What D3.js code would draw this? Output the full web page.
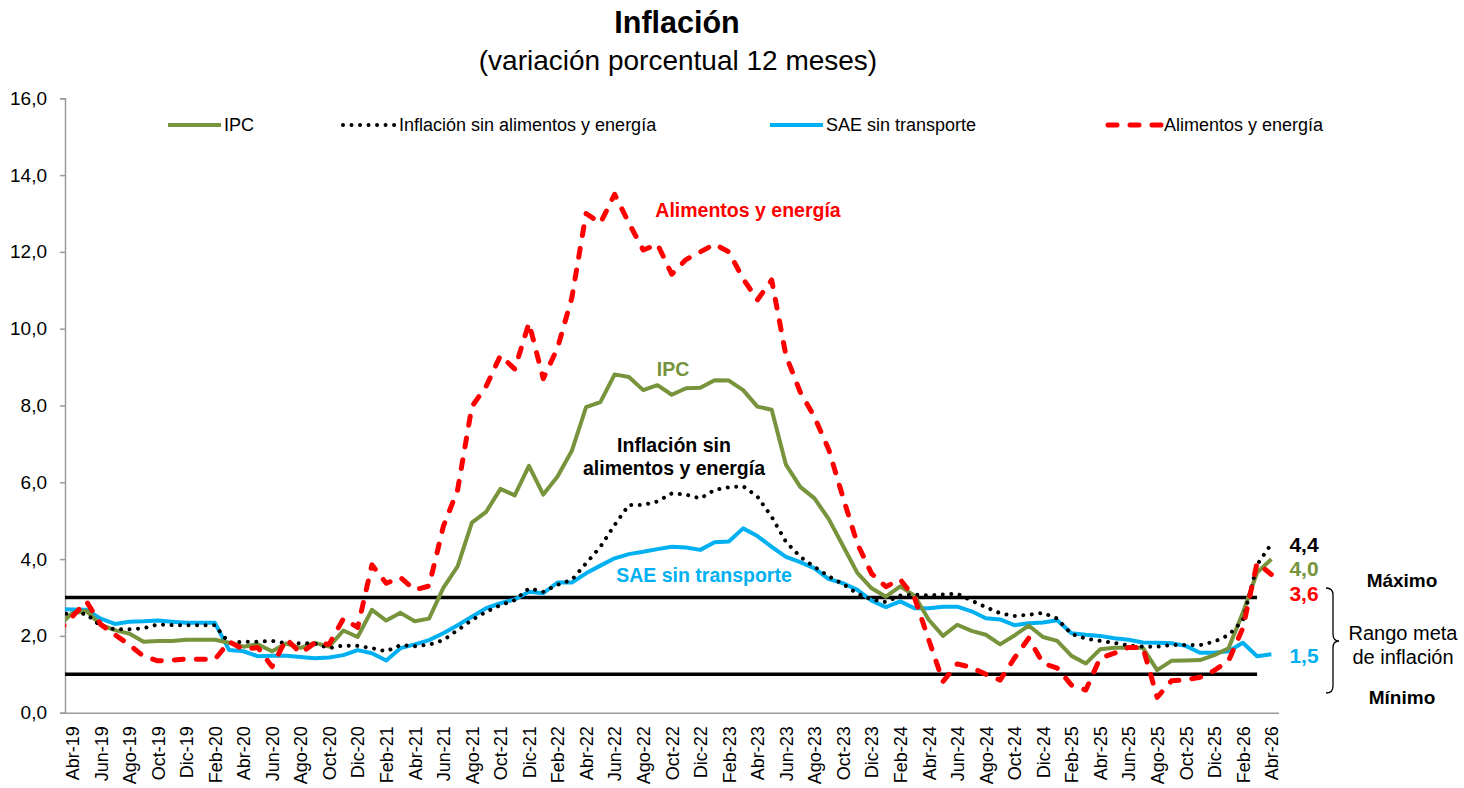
<!DOCTYPE html>
<html>
<head>
<meta charset="utf-8">
<script src="https://cdn.jsdelivr.net/npm/d3@7"></script>
<style>
  body { margin: 0; background: #fff; }
  svg { display: block; }
  text { font-family: "Liberation Sans", Arial, sans-serif; }
</style>
</head>
<body>
<svg width="1464" height="788"></svg>
<script>
// meses: Mar-19 (fuera del eje, recortado) a Abr-26
const meses = [
  "Mar-19","Abr-19","May-19","Jun-19","Jul-19","Ago-19","Sep-19","Oct-19","Nov-19","Dic-19",
  "Ene-20","Feb-20","Mar-20","Abr-20","May-20","Jun-20","Jul-20","Ago-20","Sep-20","Oct-20","Nov-20","Dic-20",
  "Ene-21","Feb-21","Mar-21","Abr-21","May-21","Jun-21","Jul-21","Ago-21","Sep-21","Oct-21","Nov-21","Dic-21",
  "Ene-22","Feb-22","Mar-22","Abr-22","May-22","Jun-22","Jul-22","Ago-22","Sep-22","Oct-22","Nov-22","Dic-22",
  "Ene-23","Feb-23","Mar-23","Abr-23","May-23","Jun-23","Jul-23","Ago-23","Sep-23","Oct-23","Nov-23","Dic-23",
  "Ene-24","Feb-24","Mar-24","Abr-24","May-24","Jun-24","Jul-24","Ago-24","Sep-24","Oct-24","Nov-24","Dic-24",
  "Ene-25","Feb-25","Mar-25","Abr-25","May-25","Jun-25","Jul-25","Ago-25","Sep-25","Oct-25","Nov-25","Dic-25",
  "Ene-26","Feb-26","Mar-26","Abr-26"
];

const ipc = [
  2.25, 2.59, 2.65, 2.29, 2.15, 2.06, 1.85, 1.87, 1.87, 1.90,
  1.90, 1.90, 1.82, 1.72, 1.78, 1.60, 1.80, 1.69, 1.82, 1.72, 2.14, 1.97,
  2.68, 2.40, 2.60, 2.38, 2.45, 3.25, 3.81, 4.95, 5.23, 5.83, 5.66, 6.43,
  5.68, 6.15, 6.82, 7.96, 8.09, 8.81, 8.74, 8.40, 8.53, 8.28, 8.45, 8.46,
  8.66, 8.65, 8.40, 7.97, 7.89, 6.46, 5.88, 5.58, 5.04, 4.34, 3.64, 3.24,
  3.02, 3.29, 3.05, 2.42, 2.00, 2.29, 2.13, 2.03, 1.78, 2.01, 2.27, 1.97,
  1.87, 1.48, 1.28, 1.65, 1.69, 1.69, 1.69, 1.11, 1.35, 1.36, 1.37, 1.50,
  1.68, 2.60, 3.65, 4.00
];

const sinAlimEnergia = [
  2.55, 2.60, 2.57, 2.26, 2.17, 2.17, 2.20, 2.30, 2.28, 2.28,
  2.28, 2.28, 1.81, 1.85, 1.85, 1.87, 1.81, 1.81, 1.80, 1.68, 1.75, 1.74,
  1.68, 1.60, 1.76, 1.73, 1.77, 1.89, 2.15, 2.41, 2.63, 2.80, 2.93, 3.24,
  3.15, 3.33, 3.46, 3.89, 4.32, 4.89, 5.41, 5.41, 5.50, 5.71, 5.68, 5.58,
  5.80, 5.87, 5.90, 5.63, 5.10, 4.45, 4.06, 3.80, 3.55, 3.35, 3.10, 2.95,
  2.88, 3.05, 3.08, 3.05, 3.08, 3.10, 2.92, 2.75, 2.59, 2.52, 2.55, 2.60,
  2.45, 2.05, 1.93, 1.87, 1.82, 1.75, 1.72, 1.72, 1.76, 1.76, 1.76, 1.85,
  2.02, 2.40, 3.85, 4.40
];

const saeSinTransporte = [
  2.70, 2.69, 2.68, 2.45, 2.31, 2.37, 2.38, 2.40, 2.37, 2.34,
  2.34, 2.34, 1.63, 1.60, 1.47, 1.48, 1.48, 1.45, 1.42, 1.44, 1.50, 1.63,
  1.55, 1.36, 1.68, 1.78, 1.89, 2.07, 2.28, 2.50, 2.72, 2.85, 2.95, 3.15,
  3.11, 3.39, 3.39, 3.63, 3.83, 4.02, 4.13, 4.19, 4.26, 4.32, 4.30, 4.24,
  4.44, 4.46, 4.80, 4.60, 4.32, 4.06, 3.92, 3.76, 3.48, 3.37, 3.20, 2.92,
  2.75, 2.90, 2.72, 2.72, 2.76, 2.76, 2.64, 2.46, 2.43, 2.28, 2.33, 2.35,
  2.41, 2.07, 2.03, 2.00, 1.94, 1.90, 1.83, 1.82, 1.81, 1.74, 1.56, 1.56,
  1.60, 1.82, 1.47, 1.52
];

const alimEnergia = [
  2.10, 2.50, 2.90, 2.30, 2.03, 1.77, 1.47, 1.35, 1.37, 1.40,
  1.39, 1.39, 1.85, 1.65, 1.70, 1.20, 1.92, 1.55, 1.82, 1.78, 2.45, 2.22,
  3.85, 3.37, 3.52, 3.20, 3.30, 4.85, 5.80, 7.97, 8.50, 9.30, 8.95, 10.15,
  8.70, 9.50, 10.80, 13.00, 12.75, 13.50, 12.75, 12.05, 12.20, 11.42, 11.80, 12.00,
  12.20, 12.00, 11.30, 10.75, 11.27, 9.30, 8.35, 7.70, 6.85, 5.60, 4.40, 3.62,
  3.28, 3.47, 3.00, 1.90, 0.81, 1.27, 1.18, 1.00, 0.85, 1.42, 1.94, 1.29,
  1.16, 0.72, 0.59, 1.42, 1.55, 1.70, 1.70, 0.40, 0.83, 0.86, 0.92, 1.10,
  1.35, 2.20, 3.90, 3.60
];

// rango meta (hasta Mar-26)
const rangoMeta = [1, 3];
const finMeta = "Mar-26";

const ticksY = [0, 2, 4, 6, 8, 10, 12, 14, 16];
const etiquetasFinales = [
  { texto: "4,4", color: "#000000" },
  { texto: "4,0", color: "#77933C" },
  { texto: "3,6", color: "#FF0000" },
  { texto: "1,5", color: "#00B0F0" }
];

const series = [
  { nombre: "SAE sin transporte", valores: saeSinTransporte, color: "#00B0F0", ancho: 4, dash: null, cap: "butt" },
  { nombre: "IPC", valores: ipc, color: "#77933C", ancho: 4, dash: null, cap: "butt" },
  { nombre: "Inflación sin alimentos y energía", valores: sinAlimEnergia, color: "#000000", ancho: 4, dash: "0.01 8.5", cap: "round" },
  { nombre: "Alimentos y energía", valores: alimEnergia, color: "#FF0000", ancho: 5, dash: "9 13", cap: "round" }
];

const svg = d3.select("svg");
const mIzq = 65, mDer = 1278.5, mSup = 98.3, mInf = 712.7;

const x = d3.scaleLinear().domain([0.5, meses.length - 0.5]).range([mIzq, mDer]);
const y = d3.scaleLinear().domain([0, 16]).range([mInf, mSup]);

svg.append("defs").append("clipPath").attr("id", "plot")
  .append("rect").attr("x", mIzq).attr("y", mSup - 10)
  .attr("width", mDer - mIzq).attr("height", mInf - mSup + 10);

// titulo
svg.append("text").attr("x", 677).attr("y", 33).attr("text-anchor", "middle")
  .attr("font-size", 30.5).attr("font-weight", "bold").text("Inflación");
svg.append("text").attr("x", 678).attr("y", 70).attr("text-anchor", "middle")
  .attr("font-size", 28).text("(variación porcentual 12 meses)");

// ejes
const gy = svg.append("g").attr("transform", `translate(${mIzq},0)`)
  .call(d3.axisLeft(y).tickValues(ticksY).tickSize(5).tickPadding(13)
    .tickFormat(d => d.toFixed(1).replace(".", ",")));
gy.selectAll("text").attr("font-size", 19).attr("fill", "#000")
  .style("font-family", '"Liberation Sans", Arial, sans-serif');
gy.selectAll("line, path").attr("stroke", "#9A9A9A").attr("stroke-width", 1.5);

const ticksX = d3.range(1, meses.length, 2);
const gx = svg.append("g").attr("transform", `translate(0,${mInf})`)
  .call(d3.axisBottom(x).tickValues(ticksX).tickFormat(i => meses[i]).tickSize(0).tickSizeOuter(0));
gx.select(".domain").attr("stroke", "#9A9A9A").attr("stroke-width", 1.5);
gx.selectAll("text")
  .attr("font-size", 18).attr("fill", "#000")
  .style("font-family", '"Liberation Sans", Arial, sans-serif')
  .attr("text-anchor", "end")
  .attr("transform", "rotate(-90)")
  .attr("x", -13.5).attr("y", 0).attr("dy", "0.35em");

// lineas del rango meta
const plot = svg.append("g").attr("clip-path", "url(#plot)");
const idxFin = meses.indexOf(finMeta);
plot.selectAll("line.meta").data(rangoMeta).join("line").attr("class", "meta")
  .attr("x1", x(0)).attr("x2", x(idxFin))
  .attr("y1", d => y(d)).attr("y2", d => y(d))
  .attr("stroke", "#000").attr("stroke-width", 3.5);

const line = d3.line().x((d, i) => x(i)).y(d => y(d));

series.forEach(s => {
  plot.append("path")
    .attr("d", line(s.valores))
    .attr("fill", "none")
    .attr("stroke", s.color)
    .attr("stroke-width", s.ancho)
    .attr("stroke-linejoin", "round")
    .attr("stroke-linecap", s.cap)
    .attr("stroke-dasharray", s.dash);
});

// leyenda
const leyenda = [
  { s: series[1], x0: 168 },
  { s: series[2], x0: 343 },
  { s: series[0], x0: 770 },
  { s: series[3], x0: 1108 }
];
leyenda.forEach(l => {
  svg.append("line").attr("x1", l.x0).attr("x2", l.x0 + 53)
    .attr("y1", 125).attr("y2", 125)
    .attr("stroke", l.s.color).attr("stroke-width", l.s.ancho)
    .attr("stroke-linecap", l.s.cap)
    .attr("stroke-dasharray", l.s.dash);
  svg.append("text").attr("x", l.x0 + 56).attr("y", 125).attr("dy", "0.35em")
    .attr("font-size", 18).text(l.s.nombre);
});

// anotaciones
const anot = (tx, ty, txt, color, size) =>
  svg.append("text").attr("x", tx).attr("y", ty).attr("dy", "0.35em")
    .attr("text-anchor", "middle").attr("font-weight", "bold")
    .attr("font-size", size).attr("fill", color).text(txt);
anot(748, 210, "Alimentos y energía", "#FF0000", 19.5);
anot(673, 369, "IPC", "#77933C", 19.5);
anot(674, 445, "Inflación sin", "#000000", 19.5);
anot(674, 468, "alimentos y energía", "#000000", 19.5);
anot(704, 575, "SAE sin transporte", "#00B0F0", 19.5);

const posFin = [545, 569, 594, 656];
etiquetasFinales.forEach((e, i) => anot(1304, posFin[i], e.texto, e.color, 21));

anot(1402, 580, "Máximo", "#000", 19);
anot(1402, 697, "Mínimo", "#000", 19);
svg.append("text").attr("x", 1403).attr("y", 633).attr("dy", "0.35em")
  .attr("text-anchor", "middle").attr("font-size", 20).text("Rango meta");
svg.append("text").attr("x", 1403).attr("y", 657).attr("dy", "0.35em")
  .attr("text-anchor", "middle").attr("font-size", 20).text("de inflación");

// llave
svg.append("path")
  .attr("d", "M1326,588 Q1333,588 1333,595 L1333,634 Q1333,641 1339,641 Q1333,641 1333,648 L1333,686 Q1333,693 1326,693")
  .attr("fill", "none").attr("stroke", "#000").attr("stroke-width", 1.3);
</script>
</body>
</html>
